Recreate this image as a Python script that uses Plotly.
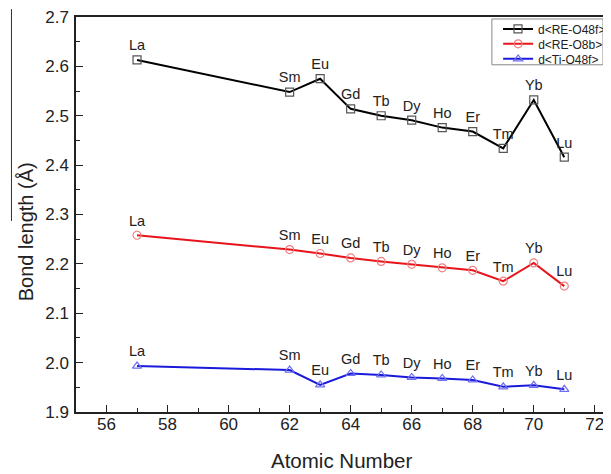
import plotly.graph_objects as go

atomic_number = [57, 62, 63, 64, 65, 66, 67, 68, 69, 70, 71]
elements = ["La", "Sm", "Eu", "Gd", "Tb", "Dy", "Ho", "Er", "Tm", "Yb", "Lu"]
re_o48f = [2.613, 2.548, 2.575, 2.514, 2.500, 2.491, 2.476, 2.468, 2.434, 2.532, 2.416]
re_o8b = [2.258, 2.229, 2.221, 2.212, 2.205, 2.199, 2.192, 2.187, 2.165, 2.202, 2.155]
ti_o48f = [1.993, 1.985, 1.955, 1.978, 1.975, 1.970, 1.968, 1.965, 1.951, 1.954, 1.946]

series = [
    ("d<RE-O48f>", re_o48f, "#000000", "#555555", "square-open", "legend"),
    ("d<RE-O8b>", re_o8b, "#e8141b", "#f08080", "circle-open", "legend2"),
    ("d<Ti-O48f>", ti_o48f, "#1a1adc", "#6f6ff0", "triangle-up-open", "legend3"),
]

FONT = "Liberation Sans, Arial"

fig = go.Figure()
for name, ys, lc, mc, sym, lg in series:
    fig.add_trace(go.Scatter(
        x=atomic_number, y=ys, name=name, legend=lg,
        mode="lines+markers+text",
        text=elements, textposition="top center",
        textfont=dict(family=FONT, size=14.5, color="#222222"),
        line=dict(color=lc, width=2),
        marker=dict(symbol=sym, size=8, color=mc, line=dict(width=1.2, color=mc)),
    ))

# legend frame
fig.add_shape(type="rect", xref="paper", yref="paper", layer="above",
              x0=0.7832, x1=0.9925, y0=0.879, y1=0.995,
              line=dict(color="#888888", width=1), fillcolor="white")
# stray vertical line left of the axis title
fig.add_shape(type="line", xref="paper", yref="paper",
              x0=-0.1215, x1=-0.1215, y0=1.02, y1=0.4836,
              line=dict(color="#333333", width=1))

fig.add_annotation(text="Bond length (Å)", xref="paper", yref="paper",
                   x=-0.0953, y=0.456, textangle=-90, showarrow=False,
                   xanchor="center", yanchor="middle",
                   font=dict(family=FONT, size=20, color="#222222"))
fig.add_annotation(text="Atomic Number", xref="paper", yref="paper",
                   x=0.5, y=-0.1234, showarrow=False,
                   xanchor="center", yanchor="middle",
                   font=dict(family=FONT, size=20.5, color="#222222"))

leg_common = dict(xanchor="left", yanchor="middle", bgcolor="rgba(0,0,0,0)",
                  borderwidth=0, font=dict(family=FONT, size=12, color="#222222"),
                  itemwidth=30)

fig.update_layout(
    width=603, height=466,
    margin=dict(l=68, r=0, t=7, b=62),
    paper_bgcolor="white", plot_bgcolor="white",
    font=dict(family=FONT, size=17, color="#222222"),
    showlegend=True,
    legend=dict(x=0.795, y=0.9698, **leg_common),
    legend2=dict(x=0.795, y=0.932, **leg_common),
    legend3=dict(x=0.795, y=0.894, **leg_common),
    xaxis=dict(range=[55, 72.4], dtick=2, tick0=56, ticks="inside", ticklen=7,
               tickcolor="#222222", showline=True, linecolor="#222222", linewidth=1.5,
               mirror=True, showgrid=False, zeroline=False, ticklabeloverflow="allow",
               ticklabelstandoff=-4,
               minor=dict(dtick=1, tick0=55, ticks="inside", ticklen=4, tickcolor="#222222")),
    yaxis=dict(range=[1.9, 2.7], dtick=0.1, tickformat=".1f", ticks="inside", ticklen=7,
               tickcolor="#222222", showline=True, linecolor="#222222", linewidth=1.5,
               mirror=True, showgrid=False, zeroline=False, ticklabelstandoff=2,
               ticklabeloverflow="allow",
               minor=dict(dtick=0.05, ticks="inside", ticklen=4, tickcolor="#222222")),
)

fig.write_html("out.html")
